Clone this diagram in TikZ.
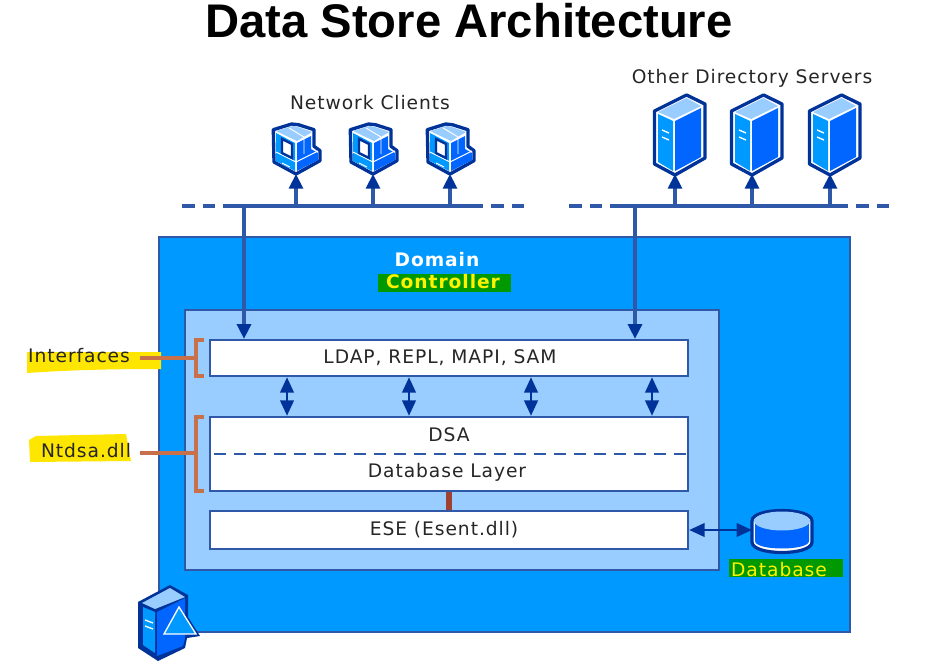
\documentclass[tikz,border=0pt]{standalone}
\usepackage{fontspec}
\setmainfont{DejaVu Sans}
\newfontfamily\titlefont{Liberation Sans}
\newfontfamily\lblfont[LetterSpace=5]{DejaVu Sans}
\usetikzlibrary{arrows.meta}
\definecolor{dk}{HTML}{003399}
\definecolor{busc}{HTML}{2F58A8}
\definecolor{midb}{HTML}{0099FF}
\definecolor{deepb}{HTML}{0066FF}
\definecolor{lightb}{HTML}{99CCFF}
\definecolor{brk}{HTML}{C8704A}
\definecolor{linkc}{HTML}{A04030}
\definecolor{hl}{HTML}{FFE600}
\definecolor{grn}{HTML}{009900}
\def\pxl{0.75pt}
\tikzset{
  x=0.75pt,y=-0.75pt,
  bus/.style={draw=busc,line width=2.3pt},
  tap/.style={draw=busc,line width=2.3pt,-{Triangle[length=11pt,width=10.5pt,color=dk]}},
  dbl/.style={draw=dk,line width=2pt,{Triangle[length=11.5pt,width=10pt]}-{Triangle[length=11.5pt,width=10pt]}},
  wbox/.style={draw=busc,line width=1.8pt,fill=white,inner sep=0pt},
  lbl/.style={text=black!85,font=\lblfont\fontsize{14}{16}\selectfont,inner sep=0pt},
  brack/.style={draw=brk,line width=2.3pt},
  iconline/.style={draw=dk,line width=2.5pt,line join=round},
  clienticon/.pic={
    \filldraw[iconline,fill=white] (-22.7,-44.3)--(-4.3,-50)--(2.3,-49.3)--(18,-44.3)--(18,-27.7)--(24,-23.3)--(24,-13.3)--(0,0)--(-22,-12)--cycle;
    \fill[midb] (-20,-41)--(-1,-31)--(-1,-3)--(-20,-13)--cycle;
    \fill[deepb] (1,-31)--(15,-38)--(15,-25)--(22,-21)--(22,-14)--(1,-3)--cycle;
    \fill[lightb] (-20,-43)--(-3,-48)--(2,-47)--(16,-42)--(1,-33)--cycle;
    \draw[white,line width=.7pt] (-7,-46)--(8,-37)--(8,-20);
    \draw[white,line width=.7pt] (-20,-22)--(0,-12)--(22,-23);
    \filldraw[draw=dk,line width=1.8pt,fill=white] (-14,-35)--(-4,-30)--(-4,-16)--(-14,-21)--cycle;
    \draw[white,line width=.7pt] (-14,-11)--(-6,-7);
  },
  servericon/.pic={
    \filldraw[iconline,fill=white] (-20.5,-63)--(11.5,-79)--(30,-70)--(30,-16)--(0,1)--(-20.5,-10)--cycle;
    \fill[midb] (-17,-60)--(-2,-53)--(-2,-3)--(-17,-12)--cycle;
    \fill[deepb] (0,-53)--(26,-66)--(26,-17)--(0,-3)--cycle;
    \fill[lightb] (-17,-62)--(11.5,-76)--(26,-68)--(-1,-55)--cycle;
    \draw[white,line width=1pt] (-13,-44)--(-6,-41) (-13,-37)--(-6,-34);
  },
  dbicon/.pic={
    \filldraw[draw=dk,line width=2.4pt,fill=white] (-30,-11)--(-30,10) .. controls (-30,24) and (30,24) .. (30,10) -- (30,-11) .. controls (30,-25) and (-30,-25) .. (-30,-11) -- cycle;
    \fill[deepb] (-27,-10)--(-27,9) .. controls (-27,19) and (27,19) .. (27,9) -- (27,-10) -- cycle;
    \fill[lightb] (0,-11) ellipse [x radius=28,y radius=9.5];
  },
  dcicon/.pic={
    \fill[dk] (-41,-35)--(-9,-52)--(9,-42)--(9,-20)--(21,-1)--(8,1)--(6,11)--(-21,24)--(-41,11)--cycle;
    \fill[midb] (-36,-30)--(-24,-25)--(-24,16)--(-36,8)--cycle;
    \fill[deepb] (-22,-25)--(6,-39)--(6,1)--(4,9)--(-22,19)--cycle;
    \fill[lightb] (-37,-34)--(-9,-49)--(6,-40)--(-24,-28)--cycle;
    \draw[white,line width=1pt] (-34,-17)--(-26,-14) (-34,-11)--(-26,-8);
    \filldraw[draw=white,line width=1pt,fill=midb] (0,-30)--(-15,-3)--(17,-3)--cycle;
  },
}
\begin{document}
\begin{tikzpicture}
\useasboundingbox (0,0) rectangle (927,670);
\fill[white] (0,0) rectangle (927,670);

\node[inner sep=0pt,text=black,font=\titlefont\bfseries\fontsize{35.4}{40}\selectfont] (title) at (469,21) {Data Store Architecture};

% containers
\node[draw=busc,line width=1.5pt,fill=midb,minimum width=691*\pxl,minimum height=395*\pxl,inner sep=0pt] (dc) at (504.5,434.5) {};
\node[draw=busc,line width=1pt,fill=lightb,minimum width=534*\pxl,minimum height=260*\pxl,inner sep=0pt] (inner) at (452,440) {};

% title labels in the controller
\node[inner sep=0pt,text=white,font=\lblfont\bfseries\fontsize{14}{16}\selectfont] (domain) at (437,260) {Domain};
\node[fill=grn,minimum width=133*\pxl,minimum height=18*\pxl,inner sep=0pt] (ctrlbox) at (444.5,283) {};
\node[inner sep=0pt,text=yellow,font=\lblfont\bfseries\fontsize{14}{16}\selectfont] (ctrl) at (443,282) {Controller};

% boxes
\node[wbox,minimum width=478*\pxl,minimum height=36*\pxl] (ldap) at (449,358) {};
\node[lbl] (ldaptxt) at (440,358) {LDAP, REPL, MAPI, SAM};
\node[wbox,minimum width=478*\pxl,minimum height=74*\pxl] (dsa) at (449,454) {};
\node[lbl] (dsatxt) at (449,435) {DSA};
\node[lbl] (dbl) at (447,472) {Database Layer};
\coordinate (dl) at (214,454); \coordinate (dr) at (688,454);
\draw[busc,line width=1.6pt,dash pattern=on 9pt off 6pt] (dl) -- (dr);
\node[wbox,minimum width=478*\pxl,minimum height=38*\pxl] (ese) at (449,530) {};
\node[lbl] (esetxt) at (444,530) {ESE (Esent.dll)};

% internal links
\foreach \n/\x in {a1/287,a2/409,a3/531,a4/652}{
  \coordinate (\n) at (\x,400);
  \draw[dbl] (ldap.south -| \n) -- (dsa.north -| \n);
}
\coordinate (r1) at (449,500);
\draw[draw=linkc,line width=4pt] (dsa.south -| r1) -- (ese.north -| r1);

% network clients
\coordinate (nwa) at (223,206); \coordinate (nwb) at (483,206);
\coordinate (nla) at (182,206); \coordinate (nlb) at (217,206);
\coordinate (nra) at (491,206); \coordinate (nrb) at (526,206);
\draw[bus] (nwa) -- (nwb);
\draw[bus,dash pattern=on 9.5pt off 6pt] (nla) -- (nlb);
\draw[bus,dash pattern=on 9.5pt off 6pt] (nra) -- (nrb);
\node[lbl] (nc) at (370,103) {Network Clients};
\foreach \n/\x in {c1/296,c2/373,c3/450}{
  \coordinate (\n) at (\x,174);
  \draw[tap] (\n |- nwa) -- (\n);
  \pic at (\n) {clienticon};
}
% other servers
\coordinate (swa) at (610,206); \coordinate (swb) at (848,206);
\coordinate (sla) at (569,206); \coordinate (slb) at (604,206);
\coordinate (sra) at (856,206); \coordinate (srb) at (891,206);
\draw[bus] (swa) -- (swb);
\draw[bus,dash pattern=on 9.5pt off 6pt] (sla) -- (slb);
\draw[bus,dash pattern=on 9.5pt off 6pt] (sra) -- (srb);
\node[lbl] (ods) at (752,78) {Other Directory Servers};
\foreach \n/\x in {s1/675,s2/752,s3/830}{
  \coordinate (\n) at (\x,174);
  \draw[tap] (\n |- swa) -- (\n);
  \pic at (\n) {servericon};
}
% down links
\coordinate (d1) at (244,206); \coordinate (d2) at (635,206);
\draw[tap] (d1) -- (ldap.north -| d1);
\draw[tap] (d2) -- (ldap.north -| d2);

% database
\coordinate (db) at (782,532);
\coordinate (dbw) at (752,530);
\draw[dbl] (ese.east) -- (dbw);
\pic at (db) {dbicon};
\node[fill=grn,minimum width=114*\pxl,minimum height=18*\pxl,inner sep=0pt] (dbbox) at (786,568) {};
\node[lbl,text=yellow] (dbtxt) at (779,570) {Database};

% left labels
\fill[hl] (27,352) -- (161,352) -- (161,369) .. controls (110,369) and (70,370) .. (27,373) -- cycle;
\fill[hl] (36,436) -- (126,434) -- (131,461) -- (30,462) -- (29,440) -- cycle;
\node[lbl] (ifc) at (79,356) {Interfaces};
\node[lbl] (ntd) at (86,451) {Ntdsa.dll};
\coordinate (bi) at (196,358); \coordinate (bn) at (196,453);
\coordinate (li) at (140,358); \coordinate (ln) at (140,453);
\draw[brack] (li) -- (bi);
\draw[brack] (ln) -- (bn);
\draw[brack] (204,340) -- (196,340) -- (196,376) -- (204,376);
\draw[brack] (204,417) -- (196,417) -- (196,491) -- (204,491);

% controller icon
\coordinate (dci) at (179,637);
\pic at (dci) {dcicon};
\end{tikzpicture}
\end{document}
